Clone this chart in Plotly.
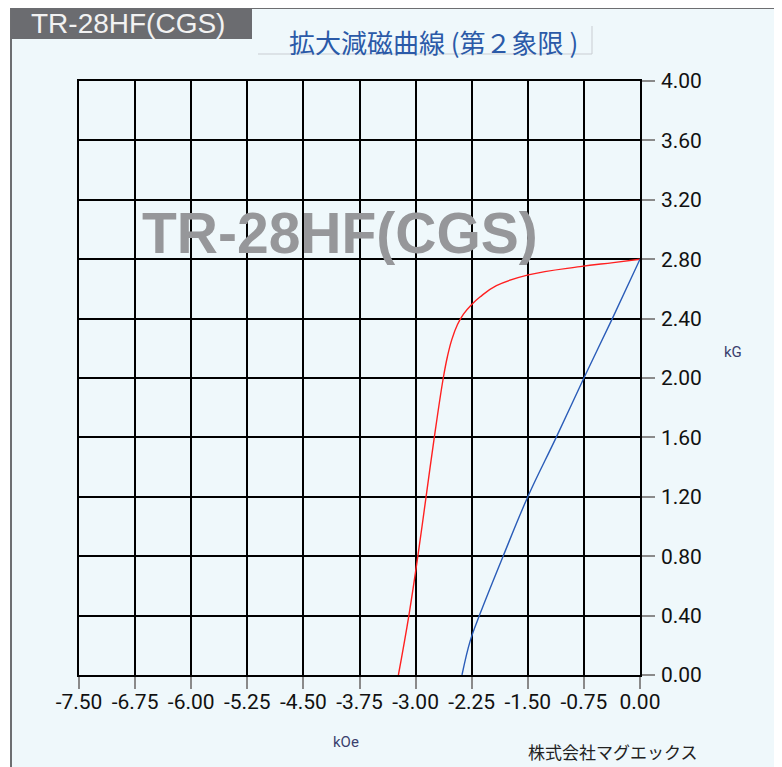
import plotly.graph_objects as go

# Data
red_h = [-3.23, -3.09, -2.97, -2.86, -2.75, -2.63, -2.575, -2.515, -2.44, -2.36, -2.25, -2.14, -1.92, -1.493, -0.802, -0.357, 0.0]
red_b = [0.00, 0.40, 0.80, 1.20, 1.60, 2.00, 2.143, 2.260, 2.360, 2.430, 2.495, 2.545, 2.622, 2.694, 2.750, 2.777, 2.80]

blue_h = [-2.38, -2.27, -2.14, -1.83, -1.50, -1.12, -0.75, -0.37, 0.0]
blue_b = [0.00, 0.23, 0.41, 0.80, 1.20, 1.60, 2.00, 2.40, 2.80]

x_ticks = [-7.5, -6.75, -6.0, -5.25, -4.5, -3.75, -3.0, -2.25, -1.5, -0.75, 0.0]
y_ticks = [0.0, 0.4, 0.8, 1.2, 1.6, 2.0, 2.4, 2.8, 3.2, 3.6, 4.0]

# page body has an 8px margin; compensate
OFF = 8
W, H = 782 - OFF, 767 - OFF
PX0, PX1, PY0, PY1 = 79, 640, 81, 675  # plot area in window pixels
L = PX0 - OFF
T = PY0 - OFF
R = W - (PX1 - OFF)
B = H - (PY1 - OFF)

fig = go.Figure()
fig.add_trace(go.Scatter(x=red_h, y=red_b, mode="lines",
                         line=dict(color="#ff2020", width=1.4, shape="spline", smoothing=1.2),
                         hoverinfo="skip", showlegend=False))
fig.add_trace(go.Scatter(x=blue_h, y=blue_b, mode="lines",
                         line=dict(color="#2a5cb8", width=1.4, shape="spline", smoothing=1.1),
                         hoverinfo="skip", showlegend=False))

def px(x):
    return (x - PX0) / (PX1 - PX0)

def py(y):
    return (PY1 - y) / (PY1 - PY0)

shapes = [
    dict(type="rect", xref="paper", yref="paper", x0=px(11), x1=px(777), y0=py(790), y1=py(8),
         fillcolor="#eff8fb", line=dict(color="#6d6e71", width=2), layer="below"),
    dict(type="rect", xref="paper", yref="paper", x0=px(11), x1=px(252), y0=py(39), y1=py(8),
         fillcolor="#6b6c70", line=dict(width=0), layer="below"),
    dict(type="line", xref="paper", yref="paper", x0=px(258), x1=px(592), y0=py(54), y1=py(54),
         line=dict(color="#c9cdd2", width=1), layer="below"),
    dict(type="line", xref="paper", yref="paper", x0=px(592), x1=px(592), y0=py(26), y1=py(54),
         line=dict(color="#c9cdd2", width=1), layer="below"),
]

annotations = [
    dict(text="TR-28HF(CGS)", x=px(128), y=py(24), xref="paper", yref="paper", showarrow=False,
         font=dict(family="Liberation Sans, Arial", size=28, color="#f2f2f2"), xanchor="center", yanchor="middle"),
    dict(text="拡大減磁曲線 (第２象限 )", x=px(433), y=py(42), xref="paper", yref="paper", showarrow=False,
         font=dict(family="Noto Sans CJK JP", size=26, color="#2b5aa8"), xanchor="center", yanchor="middle"),
    dict(text="<b>TR-28HF(CGS)</b>", x=px(340), y=py(233), xref="paper", yref="paper", showarrow=False,
         font=dict(family="Liberation Sans, Arial", size=57, color="#96979a"), xanchor="center", yanchor="middle"),
    dict(text="kG", x=px(733), y=py(352), xref="paper", yref="paper", showarrow=False,
         font=dict(family="Roboto", size=15, color="#3a3f6e"), xanchor="center", yanchor="middle"),
    dict(text="kOe", x=px(346), y=py(742), xref="paper", yref="paper", showarrow=False,
         font=dict(family="Roboto", size=15, color="#3a3f6e"), xanchor="center", yanchor="middle"),
    dict(text="株式会社マグエックス", x=px(613), y=py(751), xref="paper", yref="paper", showarrow=False,
         font=dict(family="Noto Sans CJK JP", size=17, color="#222222"), xanchor="center", yanchor="middle"),
]

fig.update_layout(
    width=W, height=H,
    margin=dict(l=L, r=R, t=T, b=B, pad=0),
    paper_bgcolor="white",
    plot_bgcolor="rgba(0,0,0,0)",
    shapes=shapes,
    annotations=annotations,
    font=dict(family="Roboto", size=21, color="#111111"),
    xaxis=dict(range=[-7.5, 0], tickmode="array", tickvals=x_ticks,
               ticktext=[f"{v:.2f}" for v in x_ticks],
               showgrid=True, gridcolor="#000000", gridwidth=1.5,
               showline=True, linecolor="#000000", linewidth=1.5, mirror=True,
               ticks="outside", ticklen=12, tickcolor="#8a8a8a", tickwidth=1.5,
               ticklabelstandoff=-5,
               zeroline=False, fixedrange=True,
               tickfont=dict(family="Roboto", size=21, color="#111111")),
    yaxis=dict(range=[0, 4], side="right", tickmode="array", tickvals=y_ticks,
               ticktext=[f"{v:.2f}" for v in y_ticks],
               showgrid=True, gridcolor="#000000", gridwidth=1.5,
               showline=True, linecolor="#000000", linewidth=1.5, mirror=True,
               ticks="outside", ticklen=13, tickcolor="#8a8a8a", tickwidth=1.5,
               ticklabelstandoff=2,
               zeroline=False, fixedrange=True,
               tickfont=dict(family="Roboto", size=21, color="#111111")),
)

fig.write_html("out.html")
